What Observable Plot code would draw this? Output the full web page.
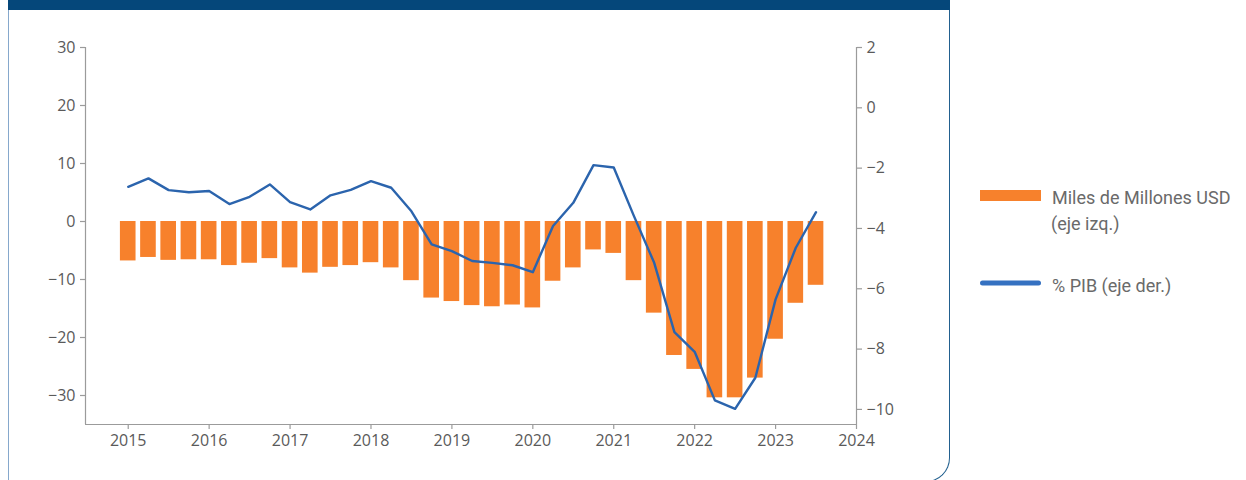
<!DOCTYPE html>
<html>
<head>
<meta charset="utf-8">
<script src="https://cdn.jsdelivr.net/npm/d3@7"></script>
<script src="https://cdn.jsdelivr.net/npm/@observablehq/plot@0.6"></script>
<style>
  html, body { margin: 0; padding: 0; background: #fff; }
  #page { position: relative; width: 1246px; height: 480px; overflow: hidden; }
  #frame { position: absolute; left: 8px; top: 0; width: 942px; height: 482px; box-sizing: border-box;
           border-left: 1px solid #86a8cc; border-right: 1.5px solid #22608f; border-bottom: 1.5px solid #22608f;
           border-bottom-right-radius: 24px; }
  #band { position: absolute; left: 8px; top: 0; width: 942px; height: 10px; background: #05477a; }
  #chart { position: absolute; left: 0; top: 0; }
  #legend { position: absolute; left: 0; top: 0; }
</style>
</head>
<body>
<div id="page">
  <div id="frame"></div>
  <div id="band"></div>
  <div id="chart"></div>
  <svg id="legend" width="1246" height="480"></svg>
</div>
<script>
// Quarters (decimal years)
const quarters = [2015.00, 2015.25, 2015.50, 2015.75, 2016.00, 2016.25, 2016.50, 2016.75,
                  2017.00, 2017.25, 2017.50, 2017.75, 2018.00, 2018.25, 2018.50, 2018.75,
                  2019.00, 2019.25, 2019.50, 2019.75, 2020.00, 2020.25, 2020.50, 2020.75,
                  2021.00, 2021.25, 2021.50, 2021.75, 2022.00, 2022.25, 2022.50, 2022.75,
                  2023.00, 2023.25, 2023.50];
// Miles de Millones USD (eje izq.)
const usdBn = [-6.8, -6.2, -6.7, -6.6, -6.6, -7.6, -7.2, -6.4,
               -8.0, -8.9, -7.9, -7.6, -7.1, -8.0, -10.2, -13.2,
               -13.8, -14.5, -14.7, -14.4, -14.9, -10.3, -8.0, -4.9,
               -5.5, -10.2, -15.8, -23.1, -25.5, -30.4, -30.4, -27.0,
               -20.3, -14.1, -11.0];
// % PIB (eje der.)
const pctGdp = [-2.62, -2.34, -2.73, -2.80, -2.76, -3.19, -2.95, -2.54,
                -3.13, -3.37, -2.90, -2.72, -2.43, -2.65, -3.43, -4.53,
                -4.75, -5.08, -5.14, -5.22, -5.45, -3.92, -3.15, -1.90,
                -1.98, -3.59, -5.14, -7.44, -8.09, -9.70, -9.98, -8.95,
                -6.35, -4.64, -3.46];

const xTicks = [2015, 2016, 2017, 2018, 2019, 2020, 2021, 2022, 2023, 2024];
const leftTicks = [-30, -20, -10, 0, 10, 20, 30];
const rightTicks = [-10, -8, -6, -4, -2, 0, 2];
const xDomain = [2014.472, 2024];
const leftDomain = [-35, 30];
const rightDomain = [-10.5, 2];

const legendLabels = ["Miles de Millones USD", "(eje izq.)", "% PIB (eje der.)"];

const orange = "#f7812c";
const blue = "#2b64ad";
const axisGray = "#9b9b9b";
const textGray = "#5a5a5a";

// map right-axis values into left-axis units
const toLeft = d3.scaleLinear().domain(rightDomain).range(leftDomain);

const data = quarters.map((t, i) => ({t, usd: usdBn[i], pct: pctGdp[i]}));
const fmt = d3.format("d");
const qHalf = 0.125;

const chart = Plot.plot({
  width: 949,
  height: 480,
  marginLeft: 85,
  marginRight: 93,
  marginTop: 47,
  marginBottom: 56,
  style: {fontFamily: "'Open Sans', sans-serif", fontSize: "16px", background: "transparent", overflow: "visible"},
  x: {domain: xDomain},
  y: {domain: leftDomain},
  marks: [
    Plot.rectY(data, {x1: d => d.t - qHalf, x2: d => d.t + qHalf, y1: 0, y2: "usd",
                      fill: orange, insetLeft: 2.3, insetRight: 2.3}),
    Plot.line(data, {x: "t", y: d => toLeft(d.pct), stroke: blue, strokeWidth: 2.4,
                     strokeLinejoin: "round", strokeLinecap: "round"}),
    Plot.ruleX([xDomain[0]], {y1: leftDomain[0], y2: leftDomain[1], stroke: axisGray, strokeWidth: 1.2}),
    Plot.ruleX([xDomain[1]], {y1: leftDomain[0], y2: leftDomain[1], stroke: axisGray, strokeWidth: 1.2}),
    Plot.ruleY([leftDomain[0]], {x1: xDomain[0], x2: xDomain[1], stroke: axisGray, strokeWidth: 1.2}),
    Plot.axisY({ticks: leftTicks, tickFormat: fmt, tickSize: 5, tickPadding: 5, label: null,
                stroke: axisGray, fill: textGray, strokeWidth: 1.2}),
    Plot.axisY({anchor: "right", ticks: rightTicks.map(v => toLeft(v)),
                tickFormat: v => fmt(Math.round(toLeft.invert(v))),
                tickSize: 5, tickPadding: 5, label: null,
                stroke: axisGray, fill: textGray, strokeWidth: 1.2}),
    Plot.axisX({ticks: xTicks, tickFormat: fmt, tickSize: 5, tickPadding: 5, label: null,
                stroke: axisGray, fill: textGray, strokeWidth: 1.2})
  ]
});
document.getElementById("chart").appendChild(chart);

// Legend
const lg = d3.select("#legend");
lg.append("rect").attr("x", 980).attr("y", 190).attr("width", 61).attr("height", 11).attr("fill", orange);
lg.append("line").attr("x1", 982.5).attr("x2", 1038.5).attr("y1", 283).attr("y2", 283)
  .attr("stroke", "#3571c1").attr("stroke-width", 5).attr("stroke-linecap", "round");
const legendText = [
  {s: legendLabels[0], x: 1052, y: 203.5},
  {s: legendLabels[1], x: 1051, y: 229.5},
  {s: legendLabels[2], x: 1052, y: 291.5}
];
legendText.forEach(d => {
  lg.append("text").attr("x", d.x).attr("y", d.y).text(d.s)
    .attr("font-family", "Roboto, sans-serif").attr("font-size", 18).attr("fill", "#6a6a6a");
});
</script>
</body>
</html>
